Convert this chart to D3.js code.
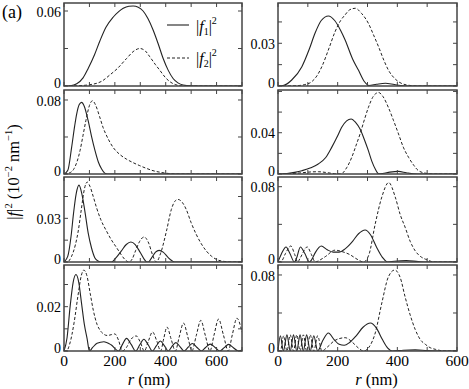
<!DOCTYPE html>
<html>
<head>
<meta charset="utf-8">
<script src="https://d3js.org/d3.v7.min.js"></script>
<style>
  body { margin: 0; background: #fff; }
</style>
</head>
<body>
<div id="grafico"></div>
<script>
// |f|^2 curves, pairs of [r (nm), value (10^-2 nm^-1)]
// row 1
var a1_f1 = [[0,0],[25,0.0002],[50,0.0018],[75,0.0065],[95,0.014],[120,0.025],[141,0.036],[165,0.047],[193,0.055],[215,0.0595],[233,0.0622],[255,0.0638],[272,0.064],[292,0.063],[311,0.060],[330,0.054],[350,0.045],[370,0.034],[390,0.022],[410,0.0125],[429,0.006],[448,0.0025],[468,0.0008],[500,0.0001],[533,0],[700,0]];
var a1_f2 = [[0,0],[50,0.0002],[100,0.001],[150,0.004],[180,0.0088],[210,0.014],[246,0.022],[275,0.028],[298,0.030],[320,0.028],[337,0.0235],[360,0.017],[376,0.0128],[400,0.0065],[416,0.0035],[440,0.001],[470,0],[700,0]];
var b1_f1 = [[0,0],[20,0.0005],[46,0.0042],[80,0.0136],[105,0.026],[124,0.037],[145,0.046],[169,0.0492],[190,0.046],[210,0.039],[225,0.0323],[250,0.019],[270,0.011],[290,0.003],[305,0.0004],[330,0.0012],[360,0.0019],[390,0.001],[420,0.0002],[450,0],[600,0]];
var b1_f2 = [[0,0],[60,0.0002],[90,0.001],[113,0.003],[130,0.007],[147,0.0136],[170,0.026],[191,0.038],[210,0.046],[225,0.050],[240,0.0535],[259,0.0546],[280,0.051],[303,0.044],[320,0.036],[337,0.0276],[355,0.018],[370,0.0112],[390,0.0055],[404,0.003],[430,0.0008],[470,0],[600,0]];
// row 2
var a2_f1 = [[0,0],[15,0.004],[30,0.0288],[42,0.052],[50,0.065],[60,0.075],[69,0.0774],[80,0.073],[95,0.0576],[108,0.041],[122,0.0252],[135,0.013],[148,0.0054],[160,0.001],[170,0],[700,0]];
var a2_f2 = [[0,0],[20,0.001],[40,0.006],[63,0.0252],[75,0.042],[86,0.0576],[100,0.074],[112,0.0792],[125,0.074],[140,0.062],[154,0.050],[170,0.040],[193,0.0288],[220,0.021],[246,0.016],[270,0.0125],[298,0.009],[325,0.006],[350,0.0036],[380,0.0018],[410,0.0006],[440,0],[700,0]];
var b2_f1 = [[0,0],[30,0.0005],[60,0.0018],[80,0.0032],[110,0.006],[135,0.0097],[160,0.016],[180,0.0258],[200,0.037],[213,0.045],[230,0.0515],[245,0.0533],[260,0.050],[275,0.0436],[290,0.033],[303,0.0226],[315,0.012],[326,0.0048],[337,0.0003],[350,0.0005],[375,0.0018],[404,0.0025],[430,0.0012],[455,0.0002],[480,0],[600,0]];
var b2_f2 = [[0,0],[40,0.0003],[80,0.0012],[110,0.002],[135,0.0022],[160,0.0015],[190,0.0003],[210,0],[230,0.006],[247,0.016],[262,0.028],[275,0.0388],[290,0.053],[303,0.0645],[320,0.0755],[337,0.079],[352,0.075],[370,0.0645],[387,0.052],[404,0.0388],[420,0.026],[438,0.016],[455,0.0085],[471,0.0032],[495,0.0008],[520,0],[600,0]];
// row 3
var a3_f1 = [[0,0],[15,0.004],[28,0.018],[37,0.0327],[48,0.047],[59,0.0528],[70,0.047],[82,0.035],[95,0.02],[108,0.0098],[121,0.003],[134,0.0007],[145,0],[187,0],[205,0.003],[225,0.0075],[245,0.012],[263,0.0137],[280,0.012],[300,0.0065],[315,0.002],[326,0],[332,0],[345,0.003],[360,0.0068],[374,0.008],[390,0.0068],[410,0.003],[425,0.0008],[435,0],[700,0]];
var a3_f2 = [[0,0],[12,0],[30,0.004],[45,0.012],[56,0.0213],[68,0.036],[80,0.05],[91,0.0549],[102,0.052],[115,0.045],[128,0.0373],[145,0.029],[167,0.0213],[187,0.015],[207,0.0098],[225,0.005],[239,0.0018],[255,0],[268,0.002],[282,0.008],[297,0.014],[315,0.0172],[333,0.013],[348,0.005],[363,0],[380,0.006],[403,0.0213],[422,0.036],[435,0.0415],[448,0.043],[465,0.041],[481,0.036],[500,0.027],[520,0.019],[540,0.0125],[560,0.0075],[580,0.004],[599,0.0018],[630,0.0004],[660,0],[700,0]];
var b3_f1 = [[0,0],[12,0.009],[27,0.016],[40,0.009],[55,0],[62,0.004],[75,0.016],[90,0.009],[105,0],[112,0.002],[125,0.01],[145,0.017],[165,0.013],[185,0.0105],[205,0.0105],[225,0.014],[250,0.022],[270,0.030],[292,0.034],[310,0.029],[330,0.016],[350,0.005],[368,0],[390,0.0008],[430,0.0015],[470,0.0005],[500,0],[600,0]];
var b3_f2 = [[0,0],[12,0.001],[25,0.009],[43,0.017],[56,0.008],[66,0],[74,0.004],[98,0.016],[112,0.008],[125,0],[140,0.002],[160,0.006],[191,0.0126],[215,0.011],[240,0.008],[265,0.003],[287,0],[305,0.008],[326,0.0406],[348,0.069],[371,0.0844],[393,0.069],[410,0.05],[426,0.037],[443,0.022],[460,0.0118],[477,0.006],[494,0.003],[527,0],[600,0]];
// row 4
var a4_f1 = [[0,0],[12,0.006],[24,0.020],[36,0.031],[47,0.0345],[58,0.031],[69,0.0215],[80,0.012],[91,0.0055],[100,0],[112,0.0015],[130,0.0035],[157,0.0042],[185,0.0028],[215,0],[230,0.003],[246,0.0057],[264,0.003],[282,0],[298,0.0028],[314,0.0053],[331,0.0028],[348,0],[363,0.0023],[379,0.0045],[395,0.0023],[410,0],[424,0.002],[440,0.0038],[456,0.002],[472,0],[488,0.0017],[505,0.0034],[522,0.0017],[540,0],[557,0.0016],[575,0.0031],[594,0.0016],[612,0],[630,0.0015],[647,0.003],[666,0.0015],[685,0],[700,0.0005]];
var a4_f2 = [[0,0],[10,0],[22,0.003],[40,0.013],[55,0.025],[68,0.034],[78,0.0365],[90,0.034],[103,0.026],[115,0.0185],[130,0.012],[141,0.0095],[155,0.0077],[170,0.007],[187,0.0074],[200,0.0077],[214,0.005],[229,0],[245,0.0015],[263,0.0052],[284,0.0068],[300,0.004],[316,0],[332,0.0045],[348,0.0086],[365,0.0045],[380,0],[392,0.0055],[405,0.0108],[421,0.0055],[438,0],[453,0.0063],[470,0.0126],[487,0.0063],[503,0],[520,0.0069],[538,0.0138],[556,0.0069],[574,0],[590,0.0072],[608,0.0144],[627,0.0072],[646,0],[662,0.0074],[680,0.0148],[700,0.0085]];
var b4_f1 = [[0,0],[8,0.016],[18,0],[30,0.017],[41,0],[52,0.017],[63,0],[74,0.017],[85,0],[96,0.017],[108,0],[120,0.016],[133,0],[150,0.011],[169,0.019],[188,0.012],[205,0.007],[222,0.006],[240,0.009],[262,0.016],[285,0.025],[310,0.0295],[330,0.024],[350,0.012],[368,0.003],[383,0],[420,0.0008],[460,0.0012],[500,0.0004],[540,0],[600,0]];
var b4_f2 = [[0,0],[8,0],[19,0.016],[30,0],[41,0.017],[52,0],[63,0.017],[74,0],[85,0.017],[96,0],[108,0.017],[120,0],[133,0.016],[147,0],[165,0.004],[190,0.011],[225,0.014],[250,0.009],[270,0.003],[287,0],[305,0.004],[326,0.019],[348,0.0505],[370,0.078],[391,0.0852],[410,0.077],[426,0.057],[443,0.038],[460,0.0226],[477,0.012],[494,0.007],[510,0.0035],[527,0.0018],[560,0],[600,0]];

var curvesF1 = [[a1_f1, b1_f1], [a2_f1, b2_f1], [a3_f1, b3_f1], [a4_f1, b4_f1]];
var curvesF2 = [[a1_f2, b1_f2], [a2_f2, b2_f2], [a3_f2, b3_f2], [a4_f2, b4_f2]];

// axes
var xMax = [700, 600];
var xTickLabels = [0, 200, 400, 600];
var yMax = [[0.0664, 0.0583], [0.0908, 0.0814], [0.0584, 0.0903], [0.0388, 0.0905]];
var yStep = [[0.03, 0.015], [0.04, 0.02], [0.015, 0.04], [0.01, 0.04]];
var yLabelled = [[0.06, 0.03], [0.08, 0.04], [0.03, 0.08], [0.02, 0.08]];

var W = 469, H = 389;
var colLeft = [64, 278], colRight = [242, 457];
var rowTop = [3, 90, 177, 265], rowBottom = [86, 174, 262, 351];
var tickLen = 4;
var frameColor = "#444";

var svg = d3.select("#grafico").append("svg")
  .attr("width", W).attr("height", H);

svg.append("text").attr("x", 2).attr("y", 18)
  .style("font-size", "18px").text("(a)");

for (var r = 0; r < 4; r++) {
  for (var c = 0; c < 2; c++) {
    var x = d3.scaleLinear().domain([0, xMax[c]]).range([colLeft[c], colRight[c]]);
    var y = d3.scaleLinear().domain([0, yMax[r][c]]).range([rowBottom[r], rowTop[r]]);
    var g = svg.append("g");
    var clipId = "clip" + r + c;

    svg.append("clipPath").attr("id", clipId).append("rect")
      .attr("x", colLeft[c]).attr("y", rowTop[r])
      .attr("width", colRight[c] - colLeft[c]).attr("height", rowBottom[r] - rowTop[r]);

    var line = d3.line()
      .x(function(d) { return x(d[0]); })
      .y(function(d) { return y(d[1]); })
      .curve(d3.curveMonotoneX);

    g.append("path").datum(curvesF1[r][c])
      .attr("d", line).attr("clip-path", "url(#" + clipId + ")")
      .attr("fill", "none").attr("stroke", "#222").attr("stroke-width", 1.1);
    g.append("path").datum(curvesF2[r][c])
      .attr("d", line).attr("clip-path", "url(#" + clipId + ")")
      .attr("fill", "none").attr("stroke", "#222").attr("stroke-width", 1)
      .attr("stroke-dasharray", "3,2");

    // x ticks (top and bottom, pointing inwards)
    var xt = d3.range(0, xMax[c] + 1, 100);
    g.selectAll(".xtb").data(xt).enter().append("line")
      .attr("x1", function(d) { return x(d); }).attr("x2", function(d) { return x(d); })
      .attr("y1", rowBottom[r]).attr("y2", rowBottom[r] - tickLen)
      .attr("stroke", frameColor).attr("stroke-width", 1);
    g.selectAll(".xtt").data(xt).enter().append("line")
      .attr("x1", function(d) { return x(d); }).attr("x2", function(d) { return x(d); })
      .attr("y1", rowTop[r]).attr("y2", rowTop[r] + tickLen)
      .attr("stroke", frameColor).attr("stroke-width", 1);

    // y ticks (left and right)
    var yt = d3.range(0, yMax[r][c] + 1e-9, yStep[r][c]);
    g.selectAll(".ytl").data(yt).enter().append("line")
      .attr("x1", colLeft[c]).attr("x2", colLeft[c] + tickLen)
      .attr("y1", function(d) { return y(d); }).attr("y2", function(d) { return y(d); })
      .attr("stroke", frameColor).attr("stroke-width", 1);
    g.selectAll(".ytr").data(yt).enter().append("line")
      .attr("x1", colRight[c]).attr("x2", colRight[c] - tickLen)
      .attr("y1", function(d) { return y(d); }).attr("y2", function(d) { return y(d); })
      .attr("stroke", frameColor).attr("stroke-width", 1);

    g.selectAll(".ylab").data([0, yLabelled[r][c]]).enter().append("text")
      .attr("x", colLeft[c] - 3)
      .attr("y", function(d) { return d === 0 ? y(d) - 3 : y(d) + 1; })
      .attr("dy", "0.33em")
      .attr("text-anchor", "end")
      .style("font-size", "14px")
      .text(function(d) { return d === 0 ? "0" : d3.format(".2f")(d); });

    g.append("rect")
      .attr("x", colLeft[c]).attr("y", rowTop[r])
      .attr("width", colRight[c] - colLeft[c]).attr("height", rowBottom[r] - rowTop[r])
      .attr("fill", "none").attr("stroke", frameColor).attr("stroke-width", 1.5);

    if (r === 3) {
      g.selectAll(".xlab").data(xTickLabels).enter().append("text")
        .attr("x", function(d) { return x(d); })
        .attr("y", rowBottom[r] + 15)
        .attr("text-anchor", "middle")
        .style("font-size", "15.5px")
        .text(function(d) { return d; });

      var xl = g.append("text")
        .attr("x", (colLeft[c] + colRight[c]) / 2 - (c === 0 ? 4 : -9))
        .attr("y", 385)
        .attr("text-anchor", "middle")
        .style("font-size", "16.5px");
      xl.append("tspan").style("font-style", "italic").text("r");
      xl.append("tspan").text(" (nm)");
    }
  }
}

// legend in the first panel
var legend = svg.append("g");
legend.append("line").attr("x1", 167).attr("x2", 189).attr("y1", 25).attr("y2", 25)
  .attr("stroke", "#222").attr("stroke-width", 1.1);
legend.append("line").attr("x1", 167).attr("x2", 189).attr("y1", 58).attr("y2", 58)
  .attr("stroke", "#222").attr("stroke-width", 1).attr("stroke-dasharray", "3,2");
[["1", 32], ["2", 64]].forEach(function(p) {
  var t = legend.append("text").attr("x", 196).attr("y", p[1]).style("font-size", "16px");
  t.append("tspan").text("|");
  t.append("tspan").style("font-style", "italic").text("f");
  t.append("tspan").attr("dy", 3).style("font-size", "10px").text(p[0]);
  t.append("tspan").attr("dy", -3).text("|");
  t.append("tspan").attr("dy", -8).style("font-size", "10px").text("2");
});

// y axis title
var ytitle = svg.append("text")
  .attr("transform", "translate(19,172) rotate(-90)")
  .attr("text-anchor", "middle")
  .style("font-size", "16.5px");
ytitle.append("tspan").text("|");
ytitle.append("tspan").style("font-style", "italic").text("f");
ytitle.append("tspan").text("|");
ytitle.append("tspan").attr("dy", -7).style("font-size", "10.5px").text("2");
ytitle.append("tspan").attr("dy", 7).text(" (10");
ytitle.append("tspan").attr("dy", -7).style("font-size", "10.5px").text("\u22122");
ytitle.append("tspan").attr("dy", 7).text(" nm");
ytitle.append("tspan").attr("dy", -7).style("font-size", "10.5px").text("\u22121");
ytitle.append("tspan").attr("dy", 7).text(")");

// serif face on every text, set on the elements themselves
svg.selectAll("text").style("font-family", "'Liberation Serif'").style("fill", "#000");
</script>
</body>
</html>
